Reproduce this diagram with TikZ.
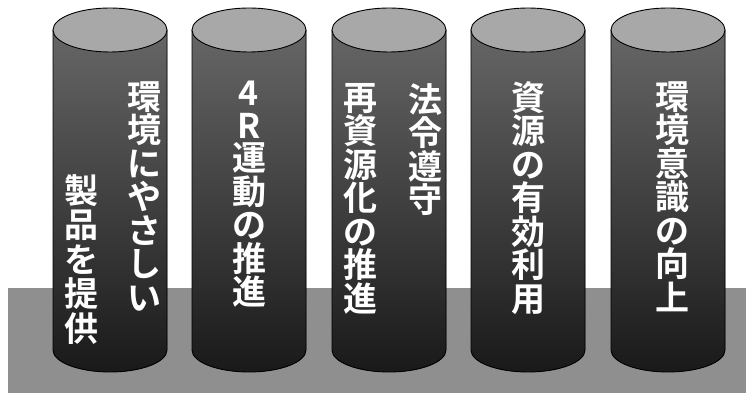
\documentclass[tikz,border=0pt]{standalone}
\usepackage{fontspec}
\newfontfamily\jp{Noto Sans CJK JP}[BoldFont={Noto Sans CJK JP Bold}]
\definecolor{slabgray}{gray}{0.56}
\definecolor{topgray}{gray}{0.66}
\definecolor{bodytop}{gray}{0.40}
\definecolor{bodymid}{gray}{0.32}
\definecolor{bodybot}{gray}{0.10}
\begin{document}
\begin{tikzpicture}[x=1pt,y=1pt,
  coltext/.style={text=white, font=\jp\bfseries\fontsize{34}{33.5}\selectfont, align=center, inner sep=0pt, anchor=north},
  bodyfill/.style={top color=bodytop, middle color=bodymid, bottom color=bodybot},
  edge/.style={draw=black, line width=0.9pt}]
\useasboundingbox (0,0) rectangle (746,396);
\fill[white] (0,0) rectangle (746,396);
% base slab
\fill[slabgray] (8,3) rectangle (746,108);
% cylinders
\foreach \cx in {110,249,389,528,668} {
  \fill[bodyfill] (\cx-57,366) -- (\cx-57,46) arc[start angle=180,end angle=360,x radius=57,y radius=22] -- (\cx+57,366) -- cycle;
  \draw[edge] (\cx-57,366) -- (\cx-57,46) arc[start angle=180,end angle=360,x radius=57,y radius=22] -- (\cx+57,366);
  \filldraw[edge, fill=topgray] (\cx,366) ellipse[x radius=57,y radius=22];
}
% texts
\node[coltext] (c1a) at (144,315) {環\\境\\に\\や\\さ\\し\\い};
\node[coltext] (c1b) at (81,222) {製\\[1pt]品\\[1pt]を\\[1pt]提\\[1pt]供};
\node[coltext] (c2) at (249,315) {4\\[-1pt]R\\[-1pt]運\\動\\の\\推\\進};
\node[coltext] (c3a) at (425,313) {法\\令\\遵\\守};
\node[coltext] (c3b) at (360,313) {再\\資\\源\\化\\の\\推\\進};
\node[coltext] (c4) at (528,315) {資\\源\\の\\有\\効\\利\\用};
\node[coltext] (c5) at (672,315) {環\\境\\意\\識\\の\\向\\上};
\end{tikzpicture}
\end{document}
